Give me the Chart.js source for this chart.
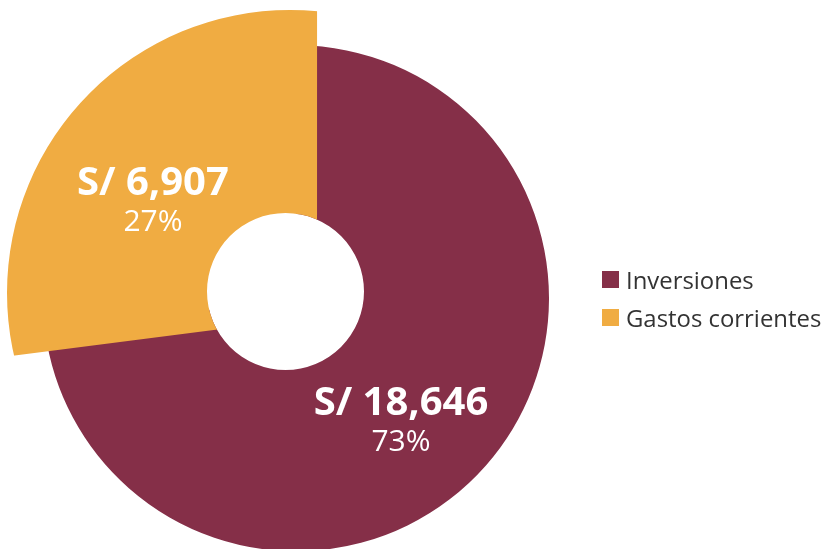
<!DOCTYPE html>
<html>
<head>
<meta charset="utf-8">
<script src="https://cdn.jsdelivr.net/npm/chart.js@4.4.1/dist/chart.umd.min.js"></script>
<style>
  html, body { margin: 0; padding: 0; background: #fff; overflow: hidden; }
  #wrap { position: relative; width: 822px; height: 549px; }
  #chart { position: absolute; left: 0; top: 0; }
  #legend {
    position: absolute; left: 602px; top: 260px;
    font-family: "Open Sans", sans-serif; font-size: 23.9px; color: #333;
  }
  .legend-item { display: flex; align-items: center; height: 38px; white-space: nowrap; }
  .legend-box { width: 17px; height: 17px; margin-right: 7px; }
</style>
</head>
<body>
<div id="wrap">
  <canvas id="chart" width="822" height="549"></canvas>
  <div id="legend"></div>
</div>
<script>
/* ================= DATA ================= */

const categories = ["Inversiones", "Gastos corrientes"];
const amounts = [18646, 6907];
const currency = "S/";

/* ================= STYLE ================= */

const sliceColors = ["#852F48", "#F0AC42"];
const clear = "rgba(0,0,0,0)";

// orange slice: pushed "inward" (negative offset), long ring, cut by a circle
const ORANGE_R = 340;
const MAROON_R = 245;
const W_ORANGE = 320, W_MAROON = 20;
const OUTER_EDGE = 283;
const HOLE_R = 78.5;
const HOLE_DX = -4.5, HOLE_DY = -1.5;
const LABEL_DIST = 167;
const LABEL_TURN = [7, -6.5]; // degrees, per slice

/* ================= LEGEND ================= */

const legend = document.getElementById("legend");
categories.forEach((name, i) => {
  const item = document.createElement("div");
  item.className = "legend-item";
  item.innerHTML = `<span class="legend-box" style="background:${sliceColors[i]}"></span><span>${name}</span>`;
  legend.appendChild(item);
});

/* ================= PLUGINS ================= */

const ringClip = {
  id: "ringClip",
  beforeDatasetsDraw(chart) {
    const { ctx, chartArea } = chart;
    const cx = (chartArea.left + chartArea.right) / 2;
    const cy = (chartArea.top + chartArea.bottom) / 2;
    ctx.save();
    ctx.beginPath();
    ctx.arc(cx, cy, OUTER_EDGE, 0, Math.PI * 2);
    ctx.moveTo(cx + HOLE_DX + HOLE_R, cy + HOLE_DY);
    ctx.arc(cx + HOLE_DX, cy + HOLE_DY, HOLE_R, 0, Math.PI * 2);
    ctx.clip("evenodd");
  },
  afterDatasetsDraw(chart) {
    chart.ctx.restore();
  }
};

const sliceLabels = {
  id: "sliceLabels",
  afterDraw(chart) {
    const ctx = chart.ctx;
    const meta = chart.getDatasetMeta(0);
    const total = amounts.reduce((a, b) => a + b, 0);

    ctx.save();
    ctx.fillStyle = "#fff";
    ctx.textAlign = "center";
    ctx.textBaseline = "alphabetic";

    meta.data.forEach((arc, i) => {
      const { x, y, startAngle, endAngle } = arc.getProps(["x", "y", "startAngle", "endAngle"], true);
      const a = (startAngle + endAngle) / 2 + LABEL_TURN[i] * Math.PI / 180;
      const lx = x + Math.cos(a) * LABEL_DIST;
      const ly = y + Math.sin(a) * LABEL_DIST;

      ctx.font = "bold 40px 'Open Sans'";
      ctx.fillText(`${currency} ${amounts[i].toLocaleString("en-US")}`, lx, ly - 3);

      ctx.font = "30px 'Open Sans'";
      ctx.fillText(`${Math.round(amounts[i] / total * 100)}%`, lx, ly + 33);
    });
    ctx.restore();
  }
};

/* ================= CHART ================= */

const W_TOTAL = W_ORANGE + W_MAROON;

new Chart(document.getElementById("chart"), {
  type: "doughnut",
  data: {
    labels: categories,
    datasets: [
      {
        // orange slice, drawn on top
        data: amounts,
        backgroundColor: [clear, sliceColors[1]],
        weight: W_ORANGE,
        radius: ORANGE_R,
        offset: [0, -144],
        clip: false
      },
      {
        // maroon slice underneath; radius scaled so its ring ends at MAROON_R
        data: amounts,
        backgroundColor: [sliceColors[0], clear],
        weight: W_MAROON,
        radius: MAROON_R * W_TOTAL / W_MAROON,
        offset: [32, 0],
        clip: false
      }
    ]
  },
  options: {
    responsive: false,
    animation: false,
    events: [],
    cutout: 0,
    borderWidth: 0,
    layout: { padding: { left: 0, right: 242, top: 37, bottom: 0 } },
    plugins: {
      legend: { display: false },
      tooltip: { enabled: false }
    }
  },
  plugins: [ringClip, sliceLabels]
});
</script>
</body>
</html>
